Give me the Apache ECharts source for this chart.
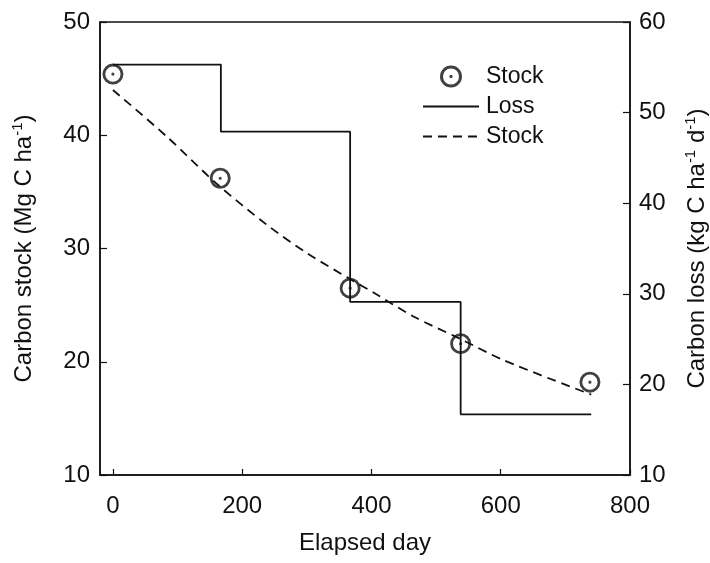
<!DOCTYPE html>
<html>
<head>
<meta charset="utf-8">
<script src="https://cdn.jsdelivr.net/npm/echarts@6/dist/echarts.min.js"></script>
<style>
  html, body { margin: 0; padding: 0; background: #fff; }
  #main { width: 710px; height: 563px; }
</style>
</head>
<body>
<div id="main"></div>
<script>
// measured stock (left axis, Mg C ha-1)
var stockDays = [0, 166, 367, 538, 738];
var stockValues = [45.4, 36.2, 26.5, 21.6, 18.2];

// carbon loss step (right axis, kg C ha-1 d-1)
var lossDays = [0, 167, 367, 538, 740];
var lossValues = [55.3, 47.9, 29.1, 16.7, 16.7];

// fitted stock curve (left axis)
var fitDays = [0, 83, 159, 238, 300, 367, 405, 465, 538, 604, 740];
var fitValues = [44.0, 39.9, 35.8, 32.1, 29.6, 27.3, 26.05, 24.0, 22.0, 20.15, 17.1];

var xTicks = [0, 200, 400, 600, 800];

function pairs(xs, ys) {
  return xs.map(function (x, i) { return [x, ys[i]]; });
}

var ink = "#111";
var font = "Liberation Sans";
// ring with a dot in the middle
var ringDot =
  "path://M0 -10A10 10 0 1 1 0 10A10 10 0 1 1 0 -10Z" +
  "M0 -7.3A7.3 7.3 0 1 0 0 7.3A7.3 7.3 0 1 0 0 -7.3Z" +
  "M0 -1.5A1.5 1.5 0 1 1 0 1.5A1.5 1.5 0 1 1 0 -1.5Z";

var richTitle = {
  n: { fontSize: 24, fontFamily: font, color: ink, lineHeight: 28 },
  s: { fontSize: 15, fontFamily: font, color: ink, lineHeight: 16, verticalAlign: "top" }
};

var dom = document.getElementById("main");
var myChart = echarts.init(dom, null, { renderer: "canvas" });

var option = {
  animation: false,
  textStyle: { fontFamily: font, color: ink },
  grid: {
    left: 100, right: 80, top: 22, bottom: 88,
    outerBoundsMode: "none",
    show: true, borderColor: ink, borderWidth: 1.5
  },
  legend: {
    left: 422,
    top: 65,
    padding: 0,
    orient: "vertical",
    itemWidth: 56,
    itemHeight: 22,
    itemGap: 7,
    textStyle: { fontSize: 23, fontFamily: font, color: ink, padding: [0, 0, 0, 2] },
    formatter: function (name) { return name === "Stock fit" ? "Stock" : name; },
    data: [
      "Stock",
      { name: "Loss", itemStyle: { opacity: 0 } },
      { name: "Stock fit", itemStyle: { opacity: 0 } }
    ]
  },
  xAxis: {
    type: "value",
    min: -20,
    max: 800,
    name: "Elapsed day",
    nameLocation: "middle",
    nameGap: 56,
    nameTextStyle: { fontSize: 24, fontFamily: font, color: ink },
    axisLine: { onZero: false, lineStyle: { color: ink, width: 1.5 } },
    axisTick: { inside: true, length: 6, customValues: xTicks, lineStyle: { color: ink, width: 1.2 } },
    axisLabel: { customValues: xTicks, fontSize: 24, color: ink, margin: 19 },
    splitLine: { show: false }
  },
  yAxis: [
    {
      type: "value",
      min: 10,
      max: 50,
      interval: 10,
      name: "{n|Carbon stock (Mg C ha}{s|-1}{n|)}",
      nameLocation: "middle",
      nameRotate: 90,
      nameGap: 62,
      nameTextStyle: { rich: richTitle },
      axisLine: { show: true, onZero: false, lineStyle: { color: ink, width: 1.5 } },
      axisTick: { show: true, inside: true, length: 7, lineStyle: { color: ink, width: 1.2 } },
      axisLabel: { fontSize: 24, color: ink, margin: 10 },
      splitLine: { show: false }
    },
    {
      type: "value",
      min: 10,
      max: 60,
      interval: 10,
      position: "right",
      name: "{n|Carbon loss (kg C ha}{s|-1}{n| d}{s|-1}{n|)}",
      nameLocation: "middle",
      nameRotate: 90,
      nameGap: 53,
      nameTextStyle: { rich: richTitle },
      axisLine: { show: true, onZero: false, lineStyle: { color: ink, width: 1.5 } },
      axisTick: { show: true, inside: true, length: 7, lineStyle: { color: ink, width: 1.2 } },
      axisLabel: { fontSize: 24, color: ink, margin: 9 },
      splitLine: { show: false }
    }
  ],
  series: [
    {
      name: "Stock fit",
      type: "line",
      yAxisIndex: 0,
      smooth: 0.3,
      symbol: "none",
      lineStyle: { color: ink, width: 1.8, type: [9, 6] },
      itemStyle: { color: ink },
      data: pairs(fitDays, fitValues),
      z: 2
    },
    {
      name: "Loss",
      type: "line",
      yAxisIndex: 1,
      step: "end",
      symbol: "none",
      lineStyle: { color: ink, width: 1.8 },
      itemStyle: { color: ink },
      data: pairs(lossDays, lossValues),
      z: 2
    },
    {
      name: "Stock",
      type: "scatter",
      yAxisIndex: 0,
      symbol: ringDot,
      symbolSize: 21,
      symbolKeepAspect: true,
      itemStyle: { color: ink },
      data: pairs(stockDays, stockValues),
      z: 3
    }
  ]
};

myChart.setOption(option);
window.addEventListener("resize", myChart.resize);
</script>
</body>
</html>
